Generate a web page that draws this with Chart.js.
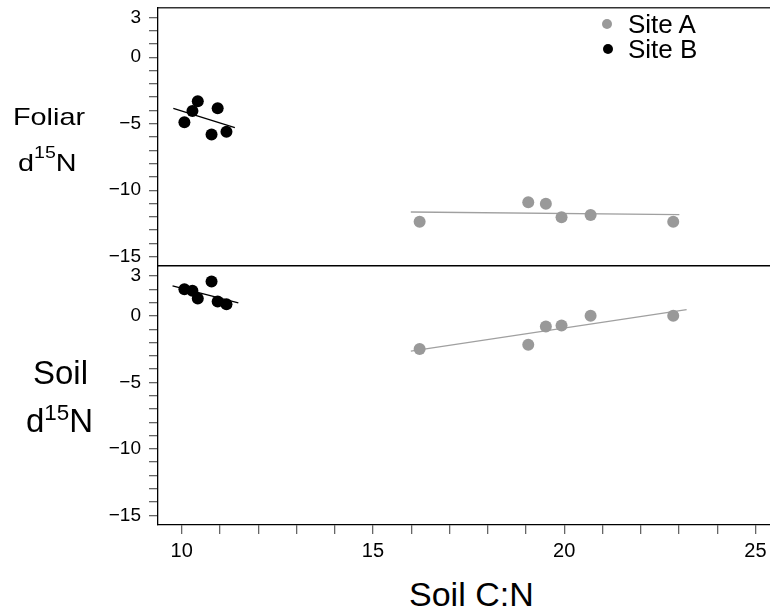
<!DOCTYPE html>
<html>
<head>
<meta charset="utf-8">
<script src="https://cdn.jsdelivr.net/npm/chart.js@4.4.0/dist/chart.umd.min.js"></script>
<style>
body { margin: 0; background: #fff; font-family: "Liberation Sans", Arial, sans-serif; }
#wrap { position: relative; width: 770px; height: 612px; overflow: hidden; }
canvas { position: absolute; left: 0; }
.lbl { position: absolute; color: #000; white-space: nowrap; line-height: 1; transform-origin: 0 0; }
.sup { position: relative; font-size: 0.68em; }
.dot { position: absolute; width: 10px; height: 10px; border-radius: 50%; }
</style>
</head>
<body>
<div id="wrap">
  <canvas id="top" width="770" height="267" style="top:0"></canvas>
  <canvas id="bottom" width="770" height="300" style="top:266px"></canvas>

  <div class="lbl" style="left:13px; top:104.7px; font-size:24px; transform:scaleX(1.2)">Foliar</div>
  <div class="lbl" style="left:18px; top:150.7px; font-size:24px; transform:scaleX(1.2)">d<span class="sup" style="top:-0.75em">15</span>N</div>
  <div class="lbl" style="left:33px; top:356px; font-size:33px">Soil</div>
  <div class="lbl" style="left:26px; top:404px; font-size:33px">d<span class="sup" style="top:-0.55em">15</span>N</div>
  <div class="lbl" style="left:409px; top:577px; font-size:34px">Soil C:N</div>

  <div class="dot" style="left:602px; top:19px; background:#999"></div>
  <div class="lbl" style="left:628px; top:11.3px; font-size:26px">Site A</div>
  <div class="dot" style="left:603px; top:44px; background:#000"></div>
  <div class="lbl" style="left:628px; top:36.3px; font-size:26px">Site B</div>
</div>
<script>
// values
const siteA_cn = [16.22, 19.06, 19.52, 19.93, 20.69, 22.85];
const siteA_foliar = [-12.37, -10.91, -11.02, -12.04, -11.87, -12.37];
const siteA_soil = [-2.50, -2.18, -0.80, -0.73, 0.00, 0.00];

const siteB_cn = [10.07, 10.28, 10.42, 10.78, 10.94, 11.17];
const siteB_foliar = [-4.89, -4.04, -3.31, -5.82, -3.84, -5.60];
const siteB_soil = [2.00, 1.88, 1.30, 2.58, 1.08, 0.88];

// fitted lines, end points
const fitA_foliar_cn = [15.99, 23.01];
const fitA_foliar = [-11.64, -11.84];
const fitB_foliar_cn = [9.78, 11.39];
const fitB_foliar = [-3.84, -5.30];
const fitA_soil_cn = [15.99, 23.20];
const fitA_soil = [-2.65, 0.47];
const fitB_soil_cn = [9.76, 11.48];
const fitB_soil = [2.26, 0.98];

const xTickLabels = [10, 15, 20, 25];
const yTickLabels = [3, 0, -5, -10, -15];

const FONT = '"Liberation Sans", Arial, sans-serif';
const grayA = '#999999';

function pts(xs, ys) {
    return xs.map((x, i) => ({ x: x, y: ys[i] }));
}

function intTicks(lo, hi) {
    const t = [];
    for (let v = lo; v <= hi; v++) t.push({ value: v });
    return t;
}

function pointSet(data, color) {
    return { data: data, backgroundColor: color, borderColor: color, pointRadius: 6, pointHoverRadius: 6, borderWidth: 0 };
}

function lineSet(data, color) {
    return { data: data, showLine: true, pointRadius: 0, borderColor: color, borderWidth: 1.3, fill: false };
}

function yScale(min, max) {
    return {
        type: 'linear', min: min, max: max,
        afterBuildTicks: s => { s.ticks = intTicks(Math.min(...yTickLabels), Math.max(...yTickLabels)); },
        ticks: {
            autoSkip: false, color: '#000', padding: 8,
            font: { size: 19, family: FONT },
            callback: v => yTickLabels.includes(v) ? String(v).replace('-', '\u2212') : ''
        },
        grid: { drawOnChartArea: false, tickLength: 9, color: '#666', lineWidth: 1.3 },
        border: { color: '#000', width: 1.3 },
        afterFit: s => { s.width = 158; s.paddingTop = 0; s.paddingBottom = 0; }
    };
}

const xMin = 9.38, xMax = 25.38;

// top panel: foliar
new Chart(document.getElementById('top'), {
    type: 'scatter',
    data: {
        datasets: [
            pointSet(pts(siteB_cn, siteB_foliar), '#000'),
            pointSet(pts(siteA_cn, siteA_foliar), grayA),
            lineSet(pts(fitB_foliar_cn, fitB_foliar), '#000'),
            lineSet(pts(fitA_foliar_cn, fitA_foliar), '#a0a0a0')
        ]
    },
    options: {
        responsive: false, animation: false, devicePixelRatio: 1,
        layout: { autoPadding: false, padding: { top: 8, right: 0, bottom: 0, left: 0 } },
        plugins: { legend: { display: false }, tooltip: { enabled: false } },
        scales: {
            x: {
                type: 'linear', position: 'bottom', min: xMin, max: xMax,
                ticks: { display: false }, grid: { display: false },
                border: { color: '#000', width: 1.6 },
                afterFit: s => { s.height = 1; s.paddingLeft = 0; s.paddingRight = 0; }
            },
            xTop: {
                type: 'linear', axis: 'x', position: 'top', min: xMin, max: xMax,
                ticks: { display: false }, grid: { display: false },
                border: { color: '#333', width: 1.5 },
                afterFit: s => { s.height = 0; s.paddingLeft = 0; s.paddingRight = 0; }
            },
            y: yScale(-15.7, 3.7)
        }
    }
});

// bottom panel: soil
new Chart(document.getElementById('bottom'), {
    type: 'scatter',
    data: {
        datasets: [
            pointSet(pts(siteB_cn, siteB_soil), '#000'),
            pointSet(pts(siteA_cn, siteA_soil), grayA),
            lineSet(pts(fitB_soil_cn, fitB_soil), '#000'),
            lineSet(pts(fitA_soil_cn, fitA_soil), '#a0a0a0')
        ]
    },
    options: {
        responsive: false, animation: false, devicePixelRatio: 1,
        layout: { autoPadding: false, padding: { top: 0, right: 0, bottom: 1, left: 0 } },
        plugins: { legend: { display: false }, tooltip: { enabled: false } },
        scales: {
            x: {
                type: 'linear', position: 'bottom', min: xMin, max: xMax,
                afterBuildTicks: s => { s.ticks = intTicks(Math.min(...xTickLabels), Math.max(...xTickLabels)); },
                ticks: {
                    autoSkip: false, maxRotation: 0, color: '#000', padding: 5,
                    font: { size: 20, family: FONT },
                    callback: v => xTickLabels.includes(v) ? String(v) : ''
                },
                grid: { drawOnChartArea: false, tickLength: 9, color: '#666', lineWidth: 1.3 },
                border: { color: '#000', width: 1.3 },
                afterFit: s => { s.height = 40; s.paddingLeft = 0; s.paddingRight = 0; }
            },
            y: yScale(-15.73, 3.75)
        }
    }
});
</script>
</body>
</html>
